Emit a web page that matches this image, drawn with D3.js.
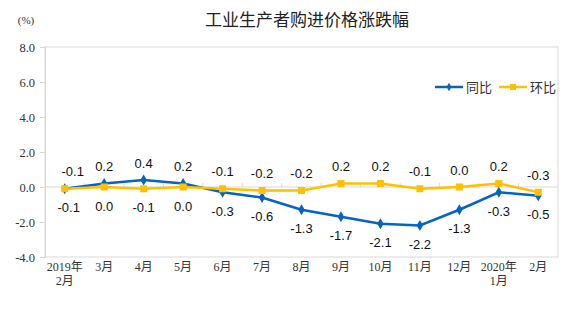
<!DOCTYPE html>
<html><head><meta charset="utf-8">
<script src="https://cdn.jsdelivr.net/npm/d3@7"></script>
<style>body{margin:0;background:#fff}svg{display:block}</style>
</head><body>
<svg id="c" width="576" height="329"></svg>
<script>
const categories = ["2019年\n2月","3月","4月","5月","6月","7月","8月","9月","10月","11月","12月","2020年\n1月","2月"];
const yoy = [-0.1,0.2,0.4,0.2,-0.3,-0.6,-1.3,-1.7,-2.1,-2.2,-1.3,-0.3,-0.5];
const mom = [-0.1,0.0,-0.1,0.0,-0.1,-0.2,-0.2,0.2,0.2,-0.1,0.0,0.2,-0.3];
const yTicks = [-4,-2,0,2,4,6,8];
const seriesNames = ["同比","环比"];
const colors = ["#0563C1","#FFC000"];

const svg = d3.select("#c");
const L=45, R=558, T=47, B=257;
const x = d3.scaleBand().domain(d3.range(categories.length)).range([L,R]);
const y = d3.scaleLinear().domain([-4,8]).range([B,T]);
const cx = i => x(i)+x.bandwidth()/2;
const fmt = v => d3.format(".1f")(v).replace("−","-");

svg.append("text").attr("x",307).attr("y",26).attr("text-anchor","middle")
  .attr("font-family","'Noto Sans CJK SC',sans-serif").attr("font-size",17).attr("fill","#222")
  .text("工业生产者购进价格涨跌幅");
svg.append("text").attr("x",26).attr("y",24).attr("text-anchor","middle")
  .attr("font-family","'Liberation Serif',serif").attr("font-size",11).attr("fill","#333").text("(%)");

// frame
svg.append("rect").attr("x",L).attr("y",T).attr("width",R-L).attr("height",B-T)
  .attr("fill","none").attr("stroke","#d9d9d9").attr("stroke-width",1);

// y axis
const ya = svg.append("g").attr("transform",`translate(${L},0)`)
  .call(d3.axisLeft(y).tickValues(yTicks).tickFormat(fmt).tickSize(5).tickPadding(5));
ya.select(".domain").attr("stroke","#d9d9d9");
ya.selectAll(".tick line").attr("stroke","#d9d9d9");
ya.selectAll("text").attr("font-family","'Liberation Serif',serif").attr("font-size",12.5).attr("fill","#333");

// zero axis
svg.append("line").attr("x1",L).attr("x2",R).attr("y1",y(0)).attr("y2",y(0)).attr("stroke","#d9d9d9");
svg.selectAll(".xt").data(d3.range(1,categories.length)).enter().append("line")
  .attr("x1",d=>x(d)).attr("x2",d=>x(d)).attr("y1",y(0)-4).attr("y2",y(0)).attr("stroke","#d9d9d9");

// x labels
categories.forEach((c,i)=>{
  const t = svg.append("text").attr("text-anchor","middle")
    .attr("font-family","'Liberation Serif','Noto Sans CJK SC',serif").attr("font-size",12).attr("fill","#333");
  c.split("\n").forEach((s,k)=>t.append("tspan").attr("x",cx(i)).attr("y",271+k*14).text(s));
});

const line = d3.line().x((d,i)=>cx(i)).y(d=>y(d));
[yoy,mom].forEach((data,si)=>{
  svg.append("path").datum(data).attr("d",line).attr("fill","none")
    .attr("stroke",colors[si]).attr("stroke-width",2.5);
});
// markers
svg.selectAll(".m1").data(yoy).enter().append("path")
  .attr("d",d3.symbol(d3.symbolDiamond,36)).attr("fill",colors[0])
  .attr("transform",(d,i)=>`translate(${cx(i)},${y(d)})`);
svg.selectAll(".m2").data(mom).enter().append("rect")
  .attr("x",(d,i)=>cx(i)-3.5).attr("y",d=>y(d)-3.5).attr("width",7).attr("height",7).attr("fill",colors[1]);

// data labels
const lab = (v,i,above)=>svg.append("text").attr("x",cx(i)+(i===0?(above?8:4):0))
  .attr("y",y(v)+(above?-17:19)).attr("dy","0.35em").attr("text-anchor","middle")
  .attr("font-family","'Liberation Sans',Arial,sans-serif").attr("font-size",13).attr("fill","#111")
  .text(fmt(v));
yoy.forEach((v,i)=>lab(v,i,i<4));
mom.forEach((v,i)=>lab(v,i,i>=4));

// legend
const lg = [[435,"同比"],[499,"环比"]];
lg.forEach(([lx,name],si)=>{
  svg.append("line").attr("x1",lx).attr("x2",lx+28).attr("y1",87).attr("y2",87)
    .attr("stroke",colors[si]).attr("stroke-width",2.5);
  if(si===0) svg.append("path").attr("d",d3.symbol(d3.symbolDiamond,20)).attr("fill",colors[0]).attr("transform",`translate(${lx+14},87)`);
  else svg.append("rect").attr("x",lx+11).attr("y",84).attr("width",6).attr("height",6).attr("fill",colors[1]);
  svg.append("text").attr("x",lx+31).attr("y",87).attr("dy","0.35em")
    .attr("font-family","'Noto Sans CJK SC',sans-serif").attr("font-size",13).attr("fill","#333").text(seriesNames[si]);
});
</script>
</body></html>
